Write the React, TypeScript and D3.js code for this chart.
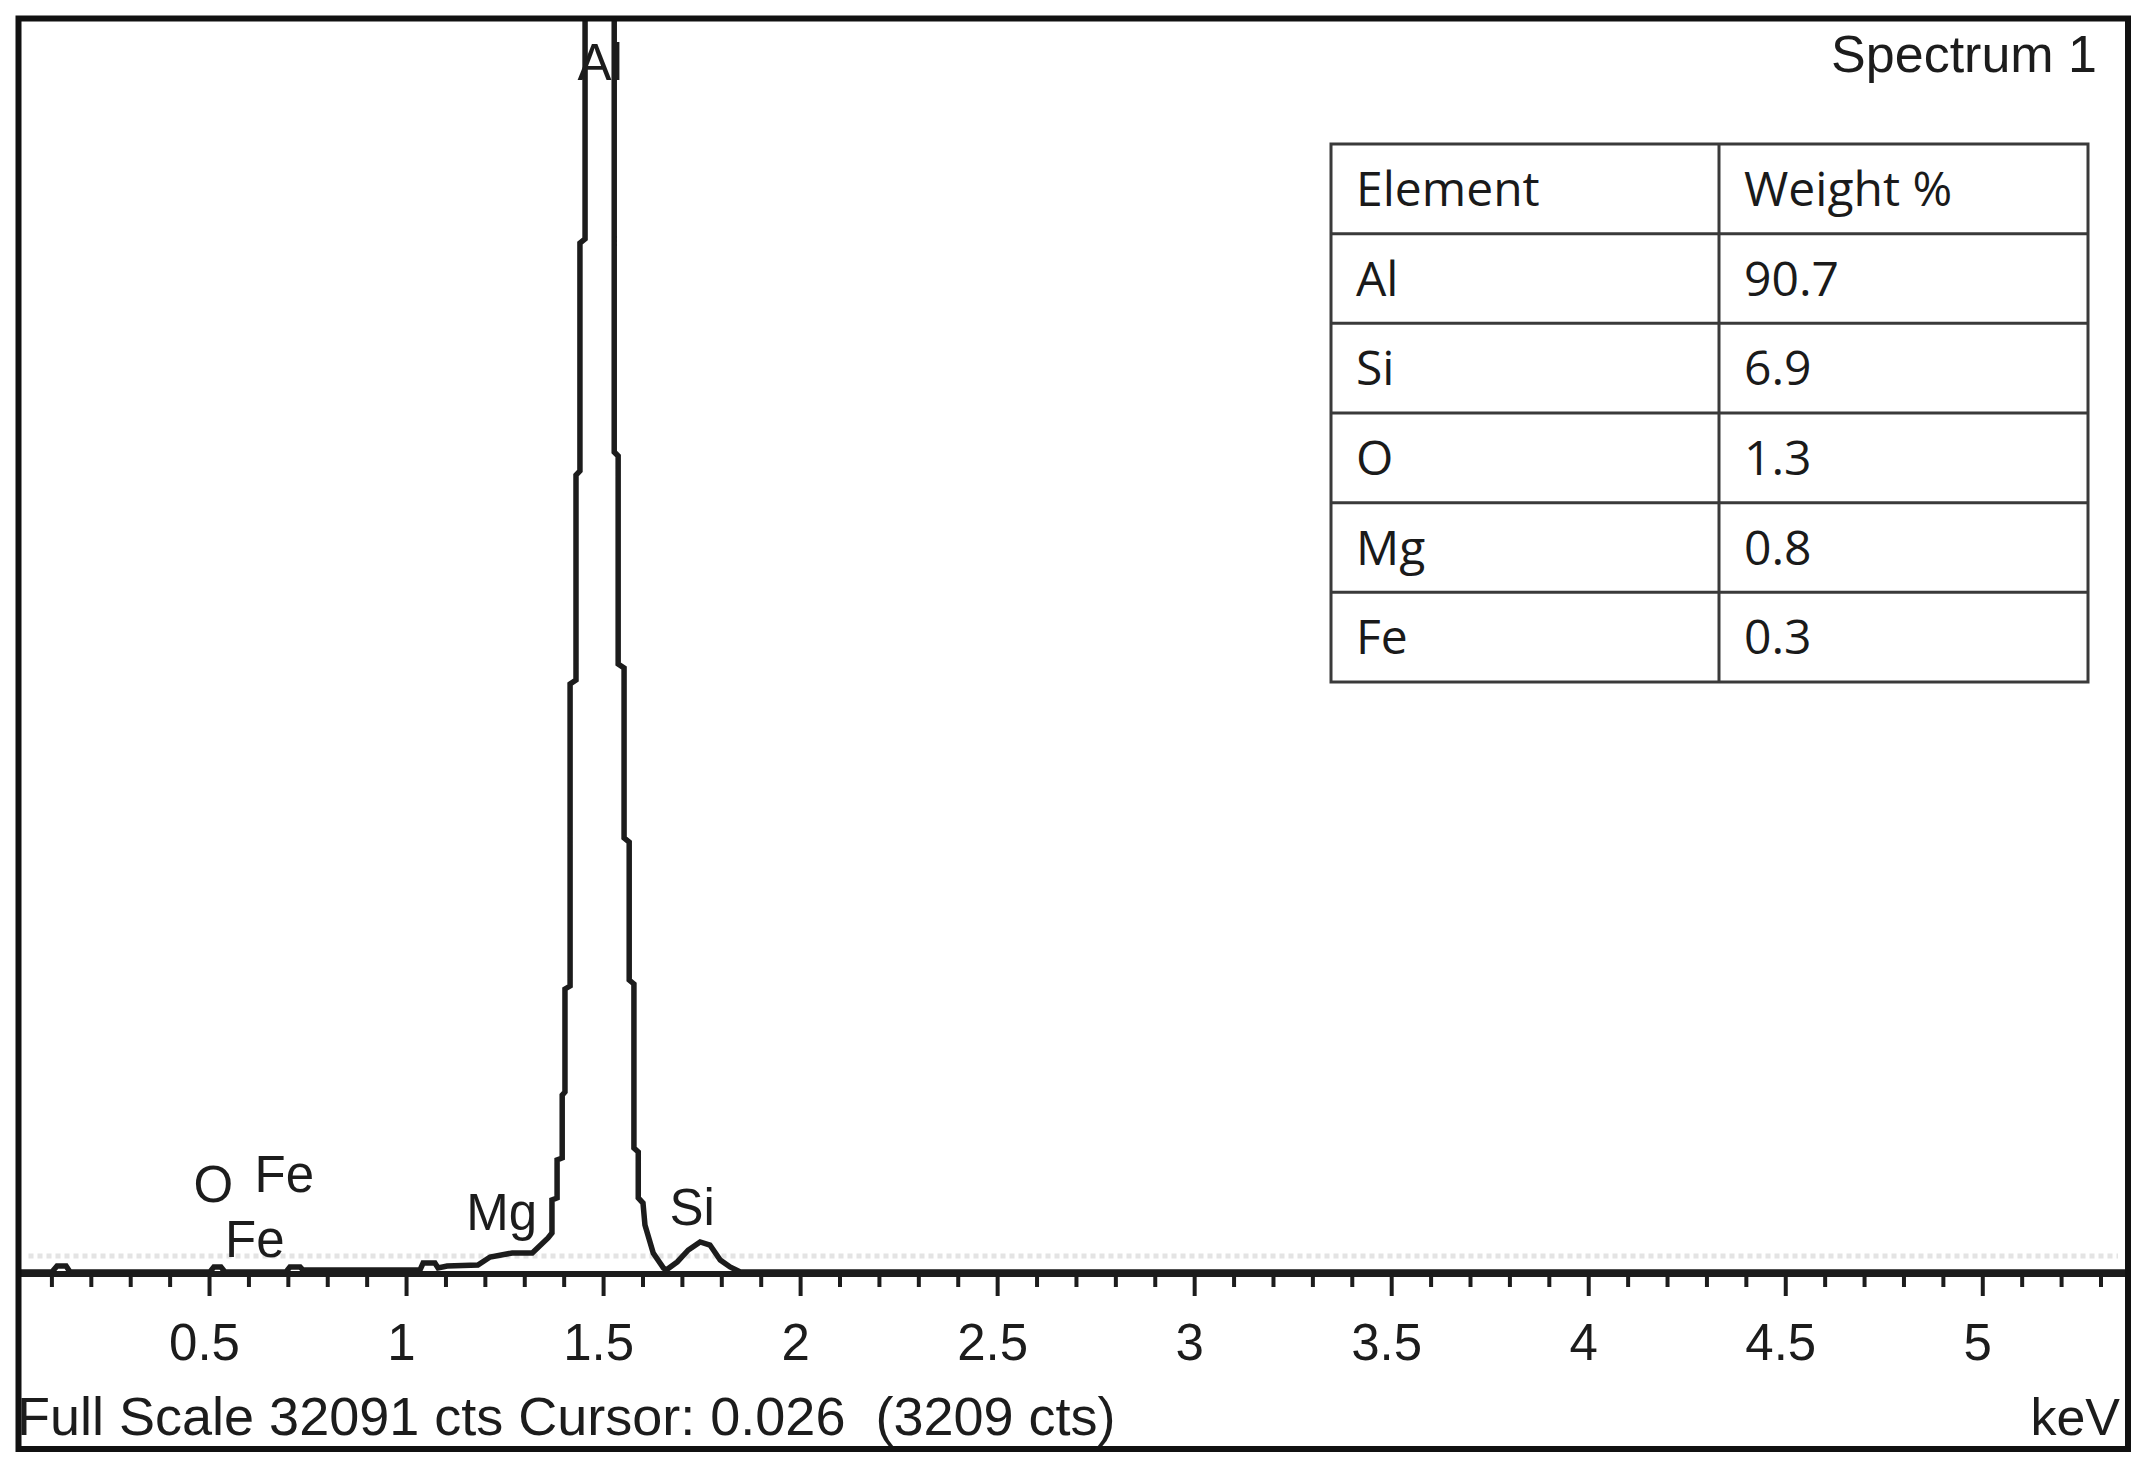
import React from 'react';
import * as d3 from 'd3';

// ---------- data ----------
const fullScaleCts = 32091;
const cursorText = 'Full Scale 32091 cts Cursor: 0.026  (3209 cts)';
const spectrumTitle = 'Spectrum 1';
const axisUnit = 'keV';

// spectrum trace (energy in keV, counts)
const energyKeV = [
  0.017, 0.1, 0.113, 0.136, 0.146, 0.501, 0.511, 0.529, 0.539, 0.694,
  0.704, 0.73, 0.737, 1.034, 1.042, 1.072, 1.08, 1.103, 1.181, 1.212,
  1.268, 1.319, 1.359, 1.369, 1.369, 1.382, 1.382, 1.395, 1.395, 1.402,
  1.402, 1.415, 1.415, 1.43, 1.43, 1.44, 1.44, 1.453, 1.453, 1.47,
  1.505, 1.527, 1.527, 1.537, 1.537, 1.552, 1.552, 1.565, 1.565, 1.577,
  1.577, 1.588, 1.588, 1.6, 1.605, 1.626, 1.652, 1.659, 1.687, 1.715,
  1.745, 1.77, 1.796, 1.821, 1.847, 5.366,
];
const countsCts = [
  51, 51, 204, 204, 51, 51, 179, 179, 51, 51,
  179, 179, 102, 102, 281, 281, 153, 204, 230, 434,
  537, 537, 920, 1048, 1891, 1942, 2913, 2964, 4573, 4650,
  7282, 7358, 15075, 15177, 20414, 20517, 26342, 26444, 36000, 39000,
  39000, 36000, 21002, 20900, 15586, 15483, 11140, 11038, 7512, 7410,
  3219, 3117, 1942, 1814, 1252, 537, 153, 102, 307, 613,
  818, 741, 358, 179, 51, 51,
];

// peak identification labels
const peakNames = ['O', 'Fe', 'Fe', 'Mg', 'Al', 'Si'];
const peakEnergies = [0.525, 0.705, 0.615, 1.254, 1.486, 1.74];

// axis ticks
const majorTicks = [0.5, 1, 1.5, 2, 2.5, 3, 3.5, 4, 4.5, 5];
const majorTickLabels = ['0.5', '1', '1.5', '2', '2.5', '3', '3.5', '4', '4.5', '5'];
const minorTickStep = 0.1;
const minorTickMax = 5.3;

// composition table
const tableHeaders = ['Element', 'Weight %'];
const tableElements = ['Al', 'Si', 'O', 'Mg', 'Fe'];
const tableWeights = ['90.7', '6.9', '1.3', '0.8', '0.3'];

// ---------- layout ----------
const W = 2151;
const H = 1473;
const frame = { left: 18.5, right: 2128, top: 18.5, bottom: 1449 };
const axisY = 1274;
const labelBaselines = [1202, 1192, 1257, 1230, 80, 1225];
const labelDx = [-6, -6, 0, -5, 2, -6];
const specFont = '"Liberation Sans", Arial, sans-serif';
const tableFont = '"Open Sans", "Noto Sans", sans-serif';
const ink = '#1c1c1c';

export default function App() {
  const x = d3.scaleLinear().domain([0, 5.366]).range([12.5, 2127]);
  const y = d3.scaleLinear().domain([0, fullScaleCts]).range([axisY, 18]);

  const pts: [number, number][] = energyKeV.map((e, i) => [e, countsCts[i]]);
  const line = d3
    .line<[number, number]>()
    .x((d) => x(d[0]))
    .y((d) => y(d[1]))
    .curve(d3.curveLinear);

  const nMinor = Math.round(minorTickMax / minorTickStep);
  const minorTicks = d3.range(1, nMinor + 1).map((i) => +(i * minorTickStep).toFixed(2));

  const tblLeft = 1331;
  const tblRight = 2088;
  const tblDiv = 1719;
  const rowBand = d3
    .scaleBand<string>()
    .domain(['__header', ...tableElements])
    .range([144, 682]);
  const rowH = rowBand.bandwidth();
  const tblFontSize = 48;
  const tblDy = 17;

  return (
    <svg
      width={W}
      height={H}
      viewBox={`0 0 ${W} ${H}`}
      style={{ position: 'absolute', left: 0, top: 0, display: 'block', background: '#fff' }}
    >
      <defs>
        <clipPath id="plotClip">
          <rect x={frame.left} y={frame.top} width={frame.right - frame.left} height={axisY - frame.top + 2} />
        </clipPath>
      </defs>
      <rect x={0} y={0} width={W} height={H} fill="#fff" />

      {/* faint dotted band above axis */}
      <line
        x1={frame.left + 10}
        x2={frame.right - 10}
        y1={1256}
        y2={1256}
        stroke="#e4e4e4"
        strokeWidth={5}
        strokeDasharray="5 4"
      />

      {/* axis line */}
      <line x1={frame.left} x2={frame.right} y1={axisY} y2={axisY} stroke={ink} strokeWidth={6} />

      {/* ticks */}
      {minorTicks.map((t) => {
        const isMajor = Math.abs(t * 2 - Math.round(t * 2)) < 1e-6;
        return (
          <line
            key={`t${t}`}
            x1={x(t)}
            x2={x(t)}
            y1={axisY}
            y2={axisY + (isMajor ? 22 : 13)}
            stroke={ink}
            strokeWidth={4}
          />
        );
      })}
      {majorTicks.map((t, i) => (
        <text
          key={`l${t}`}
          x={x(t) - 5}
          y={1360}
          textAnchor="middle"
          fontFamily={specFont}
          fontSize={51}
          fill={ink}
        >
          {majorTickLabels[i]}
        </text>
      ))}

      {/* spectrum */}
      <g clipPath="url(#plotClip)">
        <path d={line(pts) || ''} fill="none" stroke={ink} strokeWidth={5.5} strokeLinejoin="miter" />
      </g>

      {/* peak labels */}
      {peakNames.map((n, i) => (
        <text
          key={`p${i}`}
          x={x(peakEnergies[i]) + labelDx[i]}
          y={labelBaselines[i]}
          textAnchor="middle"
          fontFamily={specFont}
          fontSize={51}
          fill={ink}
        >
          {n}
        </text>
      ))}

      {/* title & footer */}
      <text x={2097} y={72} textAnchor="end" fontFamily={specFont} fontSize={52} fill={ink}>
        {spectrumTitle}
      </text>
      <text
        x={17}
        y={1435}
        fontFamily={specFont}
        fontSize={54}
        fill={ink}
        xmlSpace="preserve"
        style={{ whiteSpace: 'pre' }}
      >
        {cursorText}
      </text>
      <text x={2120} y={1435} textAnchor="end" fontFamily={specFont} fontSize={52} fill={ink}>
        {axisUnit}
      </text>

      {/* table */}
      <g>
        <rect x={tblLeft} y={144} width={tblRight - tblLeft} height={682 - 144} fill="#fff" stroke="#3a3a3a" strokeWidth={3} />
        <line x1={tblDiv} x2={tblDiv} y1={144} y2={682} stroke="#3a3a3a" strokeWidth={3} />
        {tableElements.map((el) => (
          <line
            key={`rl${el}`}
            x1={tblLeft}
            x2={tblRight}
            y1={rowBand(el)!}
            y2={rowBand(el)!}
            stroke="#3a3a3a"
            strokeWidth={3}
          />
        ))}
        <text x={tblLeft + 25} y={rowBand('__header')! + rowH / 2 + tblDy} fontFamily={tableFont} fontSize={tblFontSize} fill="#1a1a1a">
          {tableHeaders[0]}
        </text>
        <text x={tblDiv + 25} y={rowBand('__header')! + rowH / 2 + tblDy} fontFamily={tableFont} fontSize={tblFontSize} fill="#1a1a1a">
          {tableHeaders[1]}
        </text>
        {tableElements.map((el, i) => (
          <g key={`r${el}`}>
            <text x={tblLeft + 25} y={rowBand(el)! + rowH / 2 + tblDy} fontFamily={tableFont} fontSize={tblFontSize} fill="#1a1a1a">
              {el}
            </text>
            <text x={tblDiv + 25} y={rowBand(el)! + rowH / 2 + tblDy} fontFamily={tableFont} fontSize={tblFontSize} fill="#1a1a1a">
              {tableWeights[i]}
            </text>
          </g>
        ))}
      </g>

      {/* frame */}
      <rect
        x={frame.left}
        y={frame.top}
        width={frame.right - frame.left}
        height={frame.bottom - frame.top}
        fill="none"
        stroke="#111"
        strokeWidth={6}
      />
    </svg>
  );
}
